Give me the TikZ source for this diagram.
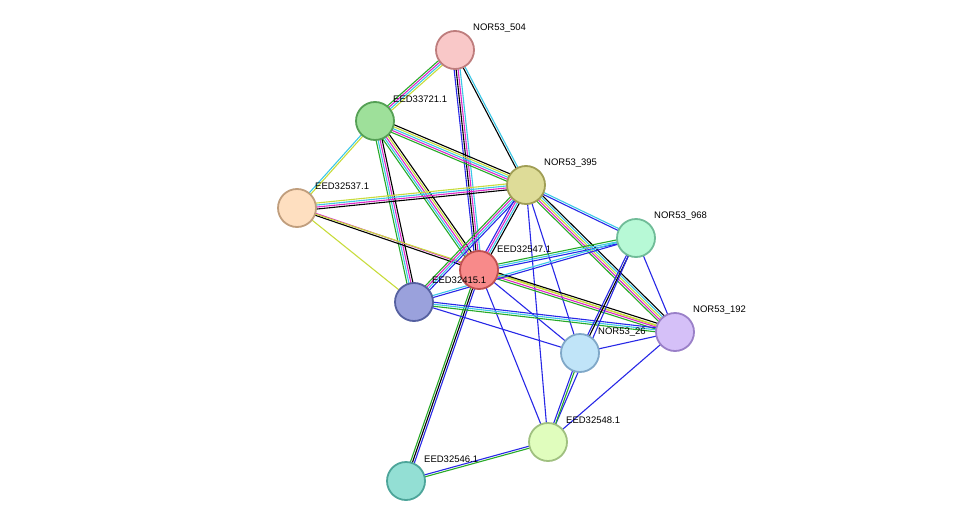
\documentclass[tikz,border=0pt]{standalone}
\usepackage{fontspec}
\setmainfont{Liberation Sans}
\usetikzlibrary{calc}
\definecolor{tmine}{RGB}{200,220,60}
\definecolor{dbase}{RGB}{60,200,230}
\definecolor{nbhd}{RGB}{40,170,40}
\definecolor{coocc}{RGB}{40,40,230}
\definecolor{exper}{RGB}{220,40,200}
\tikzset{
  prot/.style={circle, minimum size=38pt, inner sep=0pt, line width=1.8pt},
  lbl/.style={anchor=west, font=\fontsize{9.5}{10}\selectfont, inner sep=0pt},
  ln/.style={line width=1.1pt}
}
% multi-coloured link: colour/offset pairs
\newcommand{\link}[3]{%
  \foreach \c/\o in {#3}{
    \draw[ln, \c] ($(#1)!\o pt!90:(#2)$) -- ($(#2)!\o pt!-90:(#1)$);
  }}
\begin{document}
\begin{tikzpicture}[x=1pt, y=-1pt]
\useasboundingbox (0,0) rectangle (976,527);
% positions
\coordinate (n504) at (455,50);
\coordinate (e721) at (375,121);
\coordinate (n395) at (526,185);
\coordinate (e537) at (297,208);
\coordinate (n968) at (636,238);
\coordinate (e547) at (479,270);
\coordinate (e415) at (414,302);
\coordinate (n192) at (675,332);
\coordinate (n26) at (580,353);
\coordinate (e548) at (548,442);
\coordinate (e546) at (406,481);

% links
\link{n504}{e721}{nbhd/-3, exper/-1, dbase/1, tmine/3}
\link{n504}{e547}{coocc/-3, black/-1, exper/1, dbase/3}
\link{n504}{n395}{black/-1, dbase/1}
\link{e721}{e537}{dbase/-1, tmine/1}
\link{e721}{n395}{nbhd/-4, exper/-2, dbase/0, tmine/2, black/4}
\link{e721}{e547}{nbhd/-4, dbase/-2, exper/0, tmine/2, black/4}
\link{e721}{e415}{nbhd/-3, dbase/-1, exper/1, black/3}
\link{e537}{n395}{black/-3, exper/-1, dbase/1, tmine/3}
\link{e537}{e547}{black/-1, exper/1}
\link{e537}{e415}{tmine/0}
\link{e537}{n192}{tmine/0}
\link{n395}{e547}{coocc/-3, exper/-1, dbase/1, black/3}
\link{n395}{e415}{nbhd/-3, exper/-1, dbase/1, coocc/3}
\link{n395}{n968}{coocc/-1, dbase/1}
\link{n395}{n192}{nbhd/-4, exper/-2, tmine/0, dbase/2, black/4}
\link{n395}{n26}{coocc/0}
\link{n395}{e548}{coocc/0}
\link{e547}{n968}{coocc/-2, dbase/0, nbhd/2}
\link{e547}{n192}{nbhd/-3, exper/-1, tmine/1, black/3}
\link{e547}{n26}{coocc/0}
\link{e547}{e548}{coocc/0}
\link{e547}{e546}{nbhd/-2, black/0, coocc/2}
\link{e415}{n968}{coocc/-1, dbase/1}
\link{e415}{n192}{nbhd/-2, dbase/0, coocc/2}
\link{e415}{n26}{coocc/0}
\link{n968}{n26}{coocc/-1, black/1}
\link{n968}{e548}{coocc/0}
\link{n968}{n192}{coocc/0}
\link{n26}{e548}{coocc/-1, nbhd/1}
\link{n192}{e548}{coocc/0}
\link{n192}{n26}{coocc/0}
\link{e548}{e546}{coocc/-1, nbhd/1}

% proteins
\node[prot, fill={rgb,255:red,249;green,200;blue,200}, draw={rgb,255:red,190;green,125;blue,125}] (p504) at (n504) {};
\node[lbl] at ($(n504)+(18,-22)$) {NOR53\_504};
\node[prot, fill={rgb,255:red,158;green,224;blue,154}, draw={rgb,255:red,85;green,160;blue,85}] (p721) at (e721) {};
\node[lbl] at ($(e721)+(18,-22)$) {EED33721.1};
\node[prot, fill={rgb,255:red,222;green,220;blue,152}, draw={rgb,255:red,160;green,158;blue,85}] (p395) at (n395) {};
\node[lbl] at ($(n395)+(18,-22)$) {NOR53\_395};
\node[prot, fill={rgb,255:red,254;green,223;blue,192}, draw={rgb,255:red,192;green,158;blue,125}] (p537) at (e537) {};
\node[lbl] at ($(e537)+(18,-22)$) {EED32537.1};
\node[prot, fill={rgb,255:red,183;green,249;blue,214}, draw={rgb,255:red,112;green,188;blue,152}] (p968) at (n968) {};
\node[lbl] at ($(n968)+(18,-22)$) {NOR53\_968};
\node[prot, fill={rgb,255:red,248;green,138;blue,138}, draw={rgb,255:red,192;green,80;blue,80}] (p547) at (e547) {};
\node[lbl] at ($(e547)+(18,-21)$) {EED32547.1};
\node[prot, fill={rgb,255:red,154;green,161;blue,220}, draw={rgb,255:red,85;green,96;blue,160}] (p415) at (e415) {};
\node[lbl] at ($(e415)+(18,-22)$) {EED32415.1};
\node[prot, fill={rgb,255:red,192;green,228;blue,248}, draw={rgb,255:red,128;green,168;blue,200}] (p26) at (n26) {};
\node[lbl] at ($(n26)+(18,-21)$) {NOR53\_26};
\node[prot, fill={rgb,255:red,213;green,192;blue,248}, draw={rgb,255:red,154;green,128;blue,200}] (p192) at (n192) {};
\node[lbl] at ($(n192)+(18,-22)$) {NOR53\_192};
\node[prot, fill={rgb,255:red,224;green,253;blue,189}, draw={rgb,255:red,160;green,192;blue,128}] (p548) at (e548) {};
\node[lbl] at ($(e548)+(18,-22)$) {EED32548.1};
\node[prot, fill={rgb,255:red,147;green,223;blue,212}, draw={rgb,255:red,77;green,165;blue,154}] (p546) at (e546) {};
\node[lbl] at ($(e546)+(18,-22)$) {EED32546.1};
\end{tikzpicture}
\end{document}
